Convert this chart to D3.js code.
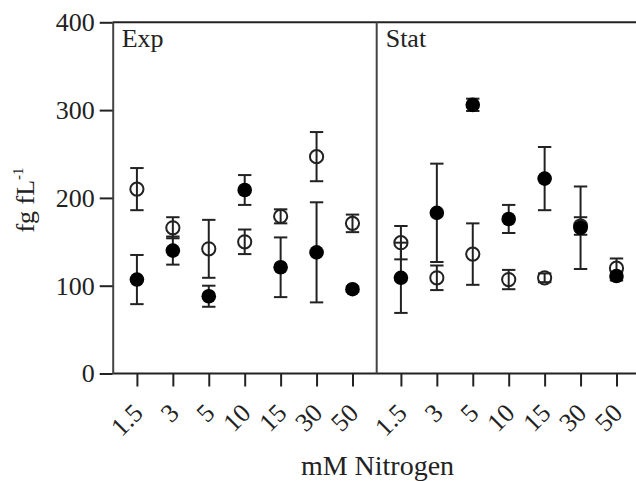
<!DOCTYPE html>
<html>
<head>
<meta charset="utf-8">
<script src="https://cdn.jsdelivr.net/npm/d3@7"></script>
<style>
  html, body { margin: 0; padding: 0; background: #fff; }
  svg { display: block; }
  text { font-family: "Liberation Serif", "Times New Roman", serif; fill: #222; }
</style>
</head>
<body>
<svg id="chart" width="636" height="481"></svg>
<script>
// ---- data ----
const categories = ["1.5", "3", "5", "10", "15", "30", "50"];
const panels = ["Exp", "Stat"];
const yTicks = [0, 100, 200, 300, 400];

const expFilled    = [107, 140, 88, 209, 121, 138, 96];
const expFilledErr = [28, 16, 12, 17, 34, 57, 3];
const expOpen      = [210, 166, 142, 150, 179, 247, 171];
const expOpenErr   = [24, 12, 33, 14, 8, 28, 10];

const statFilled    = [109, 183, 306, 176, 222, 166, 111];
const statFilledErr = [40, 56, 7, 16, 36, 47, 5];
const statOpen      = [149, 109, 136, 107, 109, 168, 120];
const statOpenErr   = [19, 14, 35, 11, 5, 10, 11];

const xLabel = "mM Nitrogen";

(function () {
// ---- layout ----
const svg = d3.select("#chart");
const mLeft = 112.7, mTop = 22.3, mBottom = 373.5, panelW = 264;
const ink = "#222";

const y = d3.scaleLinear().domain([0, 400]).range([mBottom, mTop]);
const panelScale = d3.scaleBand().domain(panels).range([mLeft, mLeft + 2 * panelW]).padding(0);
const xInner = {};
panels.forEach(p => {
  xInner[p] = d3.scalePoint().domain(categories)
    .range([panelScale(p), panelScale(p) + panelW]).padding(0.674);
});

const series = [
  {panel: "Exp",  filled: false, v: expOpen,    e: expOpenErr},
  {panel: "Exp",  filled: true,  v: expFilled,  e: expFilledErr},
  {panel: "Stat", filled: false, v: statOpen,   e: statOpenErr},
  {panel: "Stat", filled: true,  v: statFilled, e: statFilledErr}
];

// ---- frame ----
const g = svg.append("g");
g.append("line").attr("x1", mLeft).attr("x2", 640).attr("y1", mTop).attr("y2", mTop)
  .attr("stroke", ink).attr("stroke-width", 2);
g.append("line").attr("x1", mLeft).attr("x2", 640).attr("y1", mBottom).attr("y2", mBottom)
  .attr("stroke", ink).attr("stroke-width", 2);
g.append("line").attr("x1", panelScale("Stat")).attr("x2", panelScale("Stat"))
  .attr("y1", mTop).attr("y2", mBottom).attr("stroke", "#444").attr("stroke-width", 2);

// y axis
const yAxis = d3.axisLeft(y).tickValues(yTicks).tickSize(13).tickPadding(5).tickSizeOuter(0);
const ya = svg.append("g").attr("transform", `translate(${mLeft},0)`).call(yAxis);
ya.select(".domain").attr("stroke", "#444").attr("stroke-width", 2);
ya.selectAll(".tick line").attr("stroke", ink).attr("stroke-width", 2);
ya.selectAll(".tick text").attr("font-size", 26).attr("font-family", "Liberation Serif").attr("fill", ink);

// x axes (one per panel)
panels.forEach(p => {
  const xa = svg.append("g").attr("transform", `translate(0,${mBottom})`)
    .call(d3.axisBottom(xInner[p]).tickSize(13).tickSizeOuter(0));
  xa.select(".domain").remove();
  xa.selectAll(".tick line").attr("stroke", ink).attr("stroke-width", 2);
  xa.selectAll(".tick text")
    .attr("font-size", 26).attr("font-family", "Liberation Serif").attr("fill", ink)
    .attr("text-anchor", "end").attr("dy", null).attr("y", null)
    .attr("transform", "translate(7,41) rotate(-45)");
});

// panel labels
panels.forEach(p => {
  svg.append("text").attr("x", panelScale(p) + 9).attr("y", 46.7)
    .attr("font-size", 26).text(p);
});

// axis titles
svg.append("text").attr("x", 377.5).attr("y", 475).attr("text-anchor", "middle")
  .attr("font-size", 28).text(xLabel);
const yt = svg.append("text").attr("transform", "translate(34,200) rotate(-90)")
  .attr("text-anchor", "middle").attr("font-size", 26);
yt.append("tspan").text("fg fL");
yt.append("tspan").attr("font-size", 15).attr("dy", -11).text("-1");

// ---- marks ----
const cap = 6.7;
series.forEach(s => {
  const x = xInner[s.panel];
  const data = categories.map((c, i) => ({c, v: s.v[i], e: s.e[i]}));
  const eg = svg.append("g").attr("stroke", ink).attr("stroke-width", 2).attr("fill", "none");
  data.forEach(d => {
    const cx = x(d.c), y1 = y(d.v + d.e), y0 = y(d.v - d.e);
    eg.append("line").attr("x1", cx).attr("x2", cx).attr("y1", y1).attr("y2", y0);
    eg.append("line").attr("x1", cx - cap).attr("x2", cx + cap).attr("y1", y1).attr("y2", y1);
    eg.append("line").attr("x1", cx - cap).attr("x2", cx + cap).attr("y1", y0).attr("y2", y0);
  });
  svg.append("g").selectAll("circle").data(data).join("circle")
    .attr("cx", d => x(d.c)).attr("cy", d => y(d.v))
    .attr("r", s.filled ? 7.3 : 6.6)
    .attr("fill", s.filled ? "#000" : "none")
    .attr("stroke", s.filled ? "#000" : ink)
    .attr("stroke-width", s.filled ? 0 : 2);
});
})();
</script>
</body>
</html>
